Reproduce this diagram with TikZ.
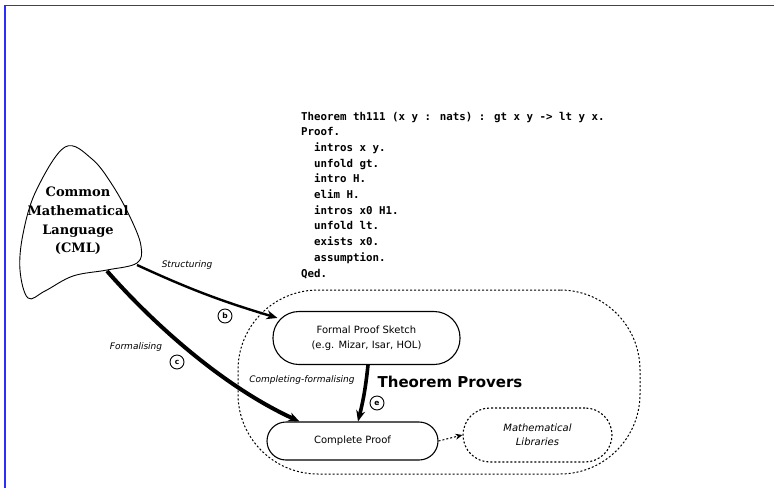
\documentclass[tikz,border=0pt]{standalone}
\usepackage{fontspec}
\setmainfont{DejaVu Sans}
\newfontfamily\cmlfont{DejaVu Serif}
\newfontfamily\codefont{DejaVu Sans Mono}
\usetikzlibrary{arrows.meta}

\definecolor{frameblue}{RGB}{45,45,250}

\tikzset{
    phase/.style={draw,line width=1.1pt,align=center,inner sep=0pt,font=\fontsize{10}{15}\selectfont},
    tag/.style={circle,draw,line width=0.9pt,inner sep=0pt,minimum size=14pt,font=\bfseries\fontsize{7.5}{7.5}\selectfont},
    flowlabel/.style={font=\itshape\fontsize{9}{9}\selectfont},
    flow/.style={-{Stealth[length=11pt,width=9pt]}},
    fine dashes/.style={dash pattern=on 2pt off 2pt}
}

\begin{document}
\begin{tikzpicture}[x=1pt,y=-1pt]
    \pgfmathsetmacro{\picwidth}{774}
    \pgfmathsetmacro{\picheight}{488}
    \providecommand{\codefontsize}{\fontsize{10.8}{15.7}}
    \providecommand{\cmlfontsize}{\fontsize{13}{18.6}}
    \providecommand{\proversfontsize}{\fontsize{15}{15}}
    \useasboundingbox (0,0) rectangle (\picwidth,\picheight);
    \draw[frameblue,line width=1.6pt] (5,\picheight) -- (5,5.5) -- (\picwidth,5.5);

    % the proof script (base is the last line)
    \node[anchor=base west,align=left,inner sep=0,font=\codefont\bfseries\codefontsize\selectfont] (script) at (301,277)
    {Theorem th111 (x y : nats) : gt x y -> lt y x.\\
     Proof.\\
     \ \ intros x y.\\
     \ \ unfold gt.\\
     \ \ intro H.\\
     \ \ elim H.\\
     \ \ intros x0 H1.\\
     \ \ unfold lt.\\
     \ \ exists x0.\\
     \ \ assumption.\\
     Qed.};

    % CML blob
    \draw[line width=0.9pt] plot[smooth cycle,tension=0.6] coordinates
        {(65,147) (92,159) (113,186) (131,219) (141,246) (137,263) (107,270) (73,276) (45,291) (28,298) (20,270) (23,234) (36,191)};
    \node[align=center,font=\cmlfont\bfseries\cmlfontsize\selectfont] (cml) at (78,221)
        {Common\\Mathematical\\Language\\(CML)};
    \coordinate (cmlright) at (137,265);
    \coordinate (cmlbottom) at (107,271);

    % theorem provers
    \node[draw,fine dashes,line width=1pt,rounded corners=80pt,minimum width=402pt,minimum height=184pt] (provers) at (439,382) {};
    \node[font=\bfseries\proversfontsize\selectfont] (proverslabel) at (450,382) {Theorem Provers};
    \node[phase,rounded corners=26pt,minimum width=187pt,minimum height=53pt] (sketch) at (366.5,338)
        {Formal Proof Sketch\\(e.g. Mizar, Isar, HOL)};
    \node[phase,rounded corners=19pt,minimum width=171pt,minimum height=38pt] (complete) at (352.5,441) {Complete Proof};
    \node[phase,fine dashes,rounded corners=27pt,minimum width=149pt,minimum height=54pt,font=\itshape\fontsize{10}{14}\selectfont] (libs) at (537.5,435)
        {Mathematical\\Libraries};

    \draw[flow,line width=2.4pt] (cmlright) to[bend right=4] ([xshift=5pt,yshift=-7pt]sketch.north west);
    \draw[flow,line width=4pt] (cmlbottom) .. controls (150,320) and (220,385) .. ([xshift=33pt]complete.north west);
    \draw[flow,line width=3.6pt] ([xshift=1.5pt]sketch.south) to[bend left=4] ([xshift=5.5pt]complete.north);
    \draw[-{Stealth[length=7pt,width=6pt]},fine dashes,line width=1pt] (complete.east) -- (libs.west);

    \node[flowlabel] (structuring) at (187,265) {Structuring};
    \node[flowlabel] (formalising) at (136,347) {Formalising};
    \node[flowlabel] (completing) at (302,380) {Completing-formalising};
    \node[tag] (tagb) at (225,316) {b};
    \node[tag] (tagc) at (177,362) {c};
    \node[tag] (tage) at (377,403) {e};
\end{tikzpicture}
\end{document}
